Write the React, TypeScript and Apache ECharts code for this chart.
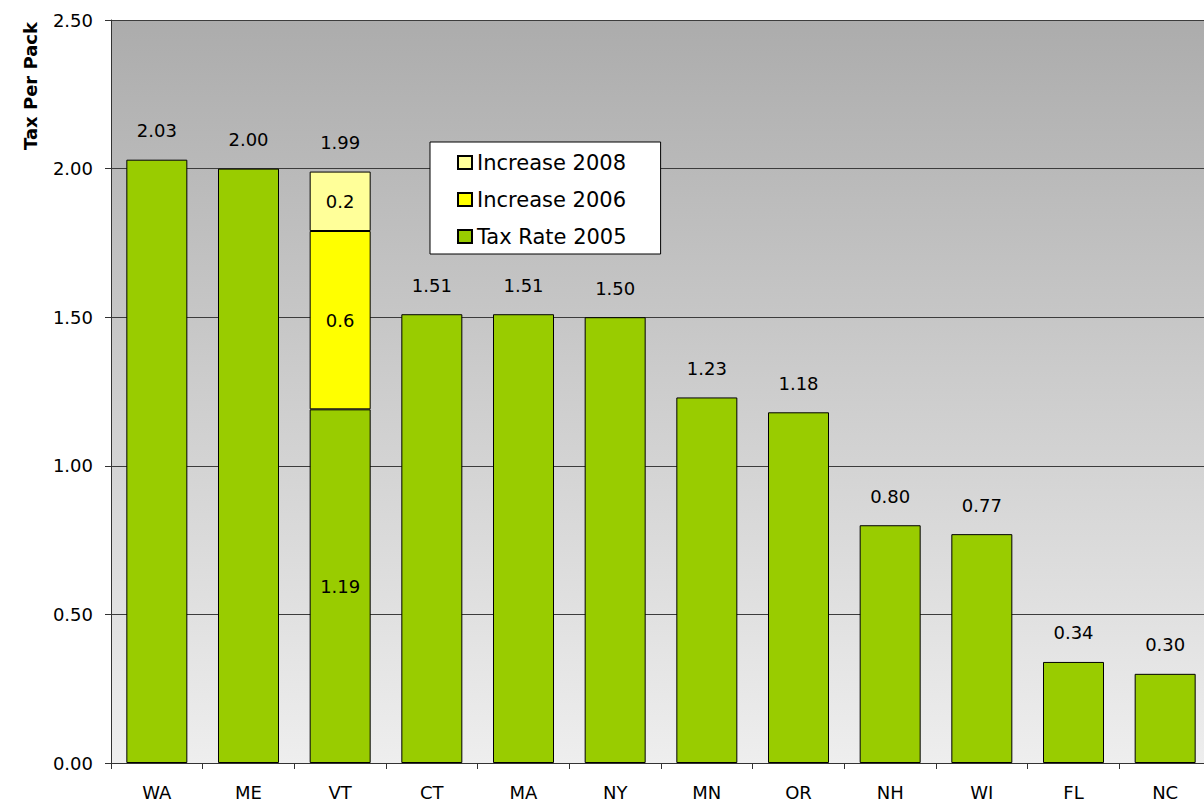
import React, { useEffect, useRef } from "react";
import * as echarts from "echarts";

const categories = ["WA", "ME", "VT", "CT", "MA", "NY", "MN", "OR", "NH", "WI", "FL", "NC"];
const taxRate2005 = [2.03, 2.0, 1.19, 1.51, 1.51, 1.5, 1.23, 1.18, 0.8, 0.77, 0.34, 0.3];
const increase2006: (number | string)[] = ["-", "-", 0.6, "-", "-", "-", "-", "-", "-", "-", "-", "-"];
const increase2008: (number | string)[] = ["-", "-", 0.2, "-", "-", "-", "-", "-", "-", "-", "-", "-"];
const yTicks = [0, 0.5, 1.0, 1.5, 2.0, 2.5];

const num = (v: number | string) => (typeof v === "number" ? v : 0);
const totals = categories.map((_, i) => +(taxRate2005[i] + num(increase2006[i]) + num(increase2008[i])).toFixed(2));

export default function App() {
  const ref = useRef<HTMLDivElement>(null);
  useEffect(() => {
    if (!ref.current) return;
    const chart = echarts.init(ref.current, null, { renderer: "svg" });
    const font = "DejaVu Sans";
    const border = { borderColor: "#000", borderWidth: 1 };
    chart.setOption({
      animation: false,
      backgroundColor: "#ffffff",
      textStyle: { fontFamily: font },
      grid: {
        left: 111,
        top: 20,
        bottom: 39,
        right: 0,
        show: true,
        borderWidth: 0,
        backgroundColor: new echarts.graphic.LinearGradient(0, 0, 0, 1, [
          { offset: 0, color: "#acacac" },
          { offset: 1, color: "#eeeeee" },
        ]),
      },
      legend: {
        data: ["Increase 2008", "Increase 2006", "Tax Rate 2005"],
        orient: "vertical",
        left: 430,
        top: 142,
        icon: "rect",
        itemWidth: 14,
        itemHeight: 13,
        itemGap: 16,
        padding: [10, 34, 7, 27],
        backgroundColor: "#ffffff",
        borderColor: "#000",
        borderWidth: 1,
        borderRadius: 0,
        textStyle: { fontFamily: font, fontSize: 21, color: "#000" },
      },
      xAxis: {
        type: "category",
        data: categories,
        axisLine: { lineStyle: { color: "#333", width: 1 } },
        axisTick: { show: true, length: 6, lineStyle: { color: "#333" } },
        axisLabel: { fontFamily: font, fontSize: 18, color: "#000", margin: 20 },
      },
      yAxis: {
        type: "value",
        min: yTicks[0],
        max: yTicks[yTicks.length - 1],
        interval: 0.5,
        axisLine: { show: true, lineStyle: { color: "#333", width: 1 } },
        axisTick: { show: true, length: 6, lineStyle: { color: "#333" } },
        axisLabel: {
          fontFamily: font,
          fontSize: 18,
          color: "#000",
          margin: 18,
          formatter: (v: number) => v.toFixed(2),
        },
        splitLine: { show: true, lineStyle: { color: "#3c3c3c", width: 1 } },
      },
      graphic: [
        {
          type: "text",
          x: 30,
          y: 86,
          rotation: Math.PI / 2,
          style: {
            text: "Tax Per Pack",
            font: "bold 18px 'DejaVu Sans'",
            fill: "#000",
            align: "center",
            verticalAlign: "middle",
          },
        },
      ],
      series: [
        {
          name: "Total",
          type: "bar",
          barWidth: 61,
          barGap: "-100%",
          data: totals,
          z: 1,
          itemStyle: { color: "rgba(0,0,0,0)", borderWidth: 0 },
          label: {
            show: true,
            position: "top",
            distance: 20,
            fontFamily: font,
            fontSize: 18,
            color: "#000",
            formatter: (p: any) => Number(p.value).toFixed(2),
          },
          silent: true,
        },
        {
          name: "Tax Rate 2005",
          type: "bar",
          stack: "tax",
          barWidth: 61,
          z: 2,
          data: taxRate2005.map((v, i) => ({
            value: v,
            label: { show: typeof increase2006[i] === "number" },
          })),
          itemStyle: { color: "#99cc00", ...border },
          label: {
            show: false,
            position: "inside",
            fontFamily: font,
            fontSize: 18,
            color: "#000",
            formatter: (p: any) => String(p.value),
          },
        },
        {
          name: "Increase 2006",
          type: "bar",
          stack: "tax",
          barWidth: 61,
          z: 2,
          data: increase2006,
          itemStyle: { color: "#ffff00", ...border },
          label: {
            show: true,
            position: "inside",
            fontFamily: font,
            fontSize: 18,
            color: "#000",
            formatter: (p: any) => String(p.value),
          },
        },
        {
          name: "Increase 2008",
          type: "bar",
          stack: "tax",
          barWidth: 61,
          z: 2,
          data: increase2008,
          itemStyle: { color: "#ffff99", ...border },
          label: {
            show: true,
            position: "inside",
            fontFamily: font,
            fontSize: 18,
            color: "#000",
            formatter: (p: any) => String(p.value),
          },
        },
      ],
    });
    return () => chart.dispose();
  }, []);
  return (
    <div
      style={{ position: "absolute", left: 0, top: 0, width: 1204, height: 802, overflow: "hidden" }}
    >
      <div ref={ref} style={{ width: 1211, height: 802 }} />
    </div>
  );
}
